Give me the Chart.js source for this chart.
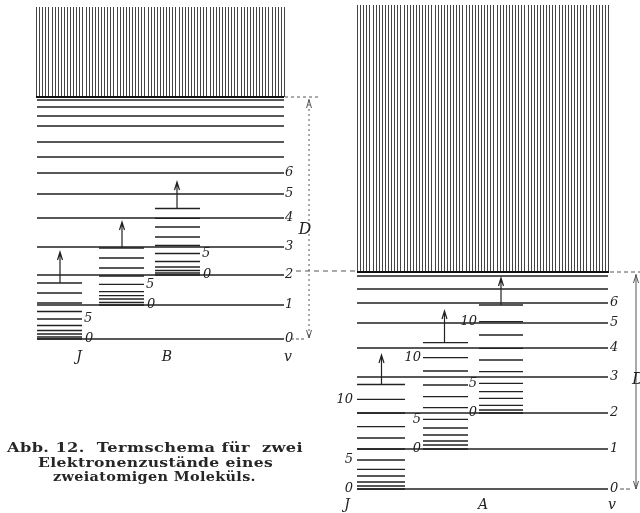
<!DOCTYPE html>
<html>
<head>
<meta charset="utf-8">
<script src="https://cdn.jsdelivr.net/npm/chart.js@4/dist/chart.umd.min.js"></script>
<style>
  body { margin: 0; background: #fff; }
  #wrap { position: relative; width: 640px; height: 513px; overflow: hidden; background: #fff; }
  #termChart { position: absolute; left: 0; top: 0; }
  .cap { position: absolute; white-space: pre; font: bold 13px "DejaVu Serif", serif; color: #262626; line-height: 16px; letter-spacing: 0.3px; transform-origin: 0 50%; }
</style>
</head>
<body>
<div id="wrap">
  <canvas id="termChart" width="640" height="513"></canvas>
  <div class="cap" id="cap1" style="left:7px; top:440px;">Abb. 12.  Termschema für  zwei</div>
  <div class="cap" id="cap2" style="left:38px; top:455px;">Elektronenzustände eines</div>
  <div class="cap" id="cap3" style="left:53px; top:469px;">zweiatomigen Moleküls.</div>
</div>
<script>
// Termschema - zwei Elektronenzustaende (Energie ueber v=0)

// linker Zustand (oben)
const leftVib = [0, 34, 64, 92, 121, 145, 166, 182, 197, 213, 223, 232, 239];
const leftVibLabels = ['0', '1', '2', '3', '4', '5', '6'];
const leftD = 242;
const leftContTop = 332;
const leftRotJ  = [0, 2, 5, 8.5, 13.5, 20, 27.5, 36, 46, 56];
const leftRotB1 = [34, 36.5, 40, 43.3, 47.3, 54.7, 63, 71, 81, 91];
const leftRotB2 = [64, 66, 68.5, 72, 77.5, 85.5, 93.5, 102, 112, 120.7, 130.5];
const leftArrowTo = [87, 117, 157];

// rechter Zustand (unten)
const rightVib = [0, 40, 76, 112, 141, 166, 186, 200, 213];
const rightVibLabels = ['0', '1', '2', '3', '4', '5', '6'];
const rightD = 217;
const rightContTop = 484;
const rightRotJ  = [0, 3, 7, 13, 19.7, 29, 40, 51, 62.3, 76, 89.7, 104.5];
const rightRotA1 = [40, 44, 48, 54, 61, 69.7, 81.3, 92.3, 104, 118, 131.3, 146.3];
const rightRotA2 = [76, 79, 83.7, 90.7, 97.3, 105.7, 117.3, 129, 140.7, 154, 167.3, 184];
const rightArrowTo = [134, 178, 211];

const rotLabels = ['0', '5', '10'];   // J = 0, 5, 10

// layout (horizontal positions of the columns)
const L = { vib: [37, 284], J: [37, 82], B1: [99, 144], B2: [155, 200], arrows: [60, 122, 177] };
const R = { vib: [357, 608], J: [357, 405], A1: [423, 468], A2: [479, 523], arrows: [381.5, 444.5, 501] };

const INK = '#222';

function levels(x0, x1, vals) {
    return vals.flatMap(v => [{x: x0, y: v}, {x: x1, y: v}, {x: x1, y: null}]);
}

function ds(data, axis, width) {
    return {
        data: data, yAxisID: axis, showLine: true, borderColor: INK, borderWidth: width,
        pointRadius: 0, fill: false, tension: 0, spanGaps: false
    };
}

function hatch(ctx, x, y, xs, xe, bottom, top) {
    const p0 = x.getPixelForValue(xs), p1 = x.getPixelForValue(xe);
    const yb = y.getPixelForValue(bottom), yt = y.getPixelForValue(top);
    ctx.save();
    ctx.strokeStyle = '#444';
    ctx.lineWidth = 1;
    ctx.beginPath();
    for (let px = p0; px <= p1; px += 3.1) {
        const xx = Math.round(px) + 0.5;
        ctx.moveTo(xx, yt);
        ctx.lineTo(xx, yb);
    }
    ctx.stroke();
    ctx.strokeStyle = '#111';
    ctx.lineWidth = 2;
    ctx.beginPath();
    ctx.moveTo(p0, yb);
    ctx.lineTo(p1, yb);
    ctx.stroke();
    ctx.restore();
}

function arrow(ctx, px, yFrom, yTo, dir) {
    // dir -1 = nach oben
    ctx.beginPath();
    ctx.moveTo(px, yFrom);
    ctx.lineTo(px, yTo);
    ctx.moveTo(px - 2.5, yTo - dir * 8);
    ctx.lineTo(px, yTo);
    ctx.lineTo(px + 2.5, yTo - dir * 8);
    ctx.stroke();
}

function hline(ctx, x0, x1, py, dash) {
    ctx.save();
    ctx.setLineDash(dash);
    ctx.beginPath();
    ctx.moveTo(x0, py);
    ctx.lineTo(x1, py);
    ctx.stroke();
    ctx.restore();
}

const termPlugin = {
    id: 'termschema',
    beforeDatasetsDraw(chart) {
        const { ctx, scales: { x, yL, yR } } = chart;
        hatch(ctx, x, yL, L.vib[0] - 1, L.vib[1], leftD, leftContTop);
        hatch(ctx, x, yR, R.vib[0], R.vib[1] + 1, rightD, rightContTop);
    },
    afterDatasetsDraw(chart) {
        const { ctx, scales: { x, yL, yR } } = chart;
        ctx.save();
        ctx.strokeStyle = INK;
        ctx.lineWidth = 1.2;

        // Pfeile ueber den Rotationsleitern
        const lTops = [leftRotJ, leftRotB1, leftRotB2].map(a => a[a.length - 1]);
        lTops.forEach((v, i) => arrow(ctx, x.getPixelForValue(L.arrows[i]), yL.getPixelForValue(v), yL.getPixelForValue(leftArrowTo[i]), -1));
        const rTops = [rightRotJ, rightRotA1, rightRotA2].map(a => a[a.length - 1]);
        rTops.forEach((v, i) => arrow(ctx, x.getPixelForValue(R.arrows[i]), yR.getPixelForValue(v), yR.getPixelForValue(rightArrowTo[i]), -1));

        // D-Markierung links
        ctx.strokeStyle = '#555';
        ctx.lineWidth = 1;
        const lDx = x.getPixelForValue(309);
        hline(ctx, x.getPixelForValue(285), x.getPixelForValue(318), yL.getPixelForValue(leftD), [3, 3]);
        hline(ctx, x.getPixelForValue(291), x.getPixelForValue(305), yL.getPixelForValue(0), [3, 2]);
        ctx.save();
        ctx.setLineDash([2, 3]);
        ctx.beginPath();
        ctx.moveTo(lDx, yL.getPixelForValue(leftD) + 2);
        ctx.lineTo(lDx, yL.getPixelForValue(0) - 1);
        ctx.stroke();
        ctx.restore();
        arrow(ctx, lDx, yL.getPixelForValue(leftD) + 4, yL.getPixelForValue(leftD) + 3, -1);
        arrow(ctx, lDx, yL.getPixelForValue(0) - 4, yL.getPixelForValue(0) - 1, 1);

        // gestrichelte Verbindung und D rechts
        hline(ctx, x.getPixelForValue(296), x.getPixelForValue(357), yR.getPixelForValue(rightD) - 1, [5, 4]);
        hline(ctx, x.getPixelForValue(610), x.getPixelForValue(640), yR.getPixelForValue(rightD), [4, 3]);
        hline(ctx, x.getPixelForValue(620), x.getPixelForValue(632), yR.getPixelForValue(0), [4, 2]);
        const rDx = x.getPixelForValue(636);
        ctx.beginPath();
        ctx.moveTo(rDx, yR.getPixelForValue(rightD) + 2);
        ctx.lineTo(rDx, yR.getPixelForValue(0));
        ctx.stroke();
        arrow(ctx, rDx, yR.getPixelForValue(rightD) + 4, yR.getPixelForValue(rightD) + 3, -1);
        arrow(ctx, rDx, yR.getPixelForValue(0) - 4, yR.getPixelForValue(0), 1);

        // Beschriftung
        ctx.fillStyle = '#222';
        ctx.font = 'italic 13px "DejaVu Serif"';
        ctx.textBaseline = 'middle';
        ctx.textAlign = 'left';
        leftVibLabels.forEach((t, i) => ctx.fillText(t, x.getPixelForValue(285), yL.getPixelForValue(leftVib[i])));
        rightVibLabels.forEach((t, i) => ctx.fillText(t, x.getPixelForValue(610), yR.getPixelForValue(rightVib[i])));
        [[leftRotJ, L.J], [leftRotB1, L.B1], [leftRotB2, L.B2]].forEach(([a, c]) => {
            ctx.fillText(rotLabels[1], x.getPixelForValue(c[1] + 2), yL.getPixelForValue(a[5]));
            ctx.fillText(rotLabels[0], x.getPixelForValue(c[1] + 3), yL.getPixelForValue(a[0]));
        });
        ctx.textAlign = 'right';
        [[rightRotJ, R.J, 353], [rightRotA1, R.A1, 421], [rightRotA2, R.A2, 477]].forEach(([a, c, lx]) => {
            [0, 5, 10].forEach((j, k) => ctx.fillText(rotLabels[k], x.getPixelForValue(lx), yR.getPixelForValue(a[j])));
        });
        ctx.textAlign = 'center';
        ctx.font = 'italic 14px "DejaVu Serif"';
        ctx.fillText('J', x.getPixelForValue(79), yL.getPixelForValue(-18));
        ctx.fillText('B', x.getPixelForValue(167), yL.getPixelForValue(-18));
        ctx.fillText('v', x.getPixelForValue(288), yL.getPixelForValue(-18));
        ctx.fillText('J', x.getPixelForValue(347), yR.getPixelForValue(-16));
        ctx.fillText('A', x.getPixelForValue(483), yR.getPixelForValue(-16));
        ctx.fillText('v', x.getPixelForValue(612), yR.getPixelForValue(-16));
        ctx.font = 'italic 16px "DejaVu Serif"';
        ctx.fillText('D', x.getPixelForValue(305), yL.getPixelForValue(109));
        ctx.textAlign = 'left';
        ctx.fillText('D', x.getPixelForValue(632), yR.getPixelForValue(109));
        ctx.restore();
    }
};

new Chart(document.getElementById('termChart'), {
    type: 'scatter',
    data: {
        datasets: [
            ds(levels(L.vib[0], L.vib[1], leftVib), 'yL', 1.7),
            ds(levels(L.J[0], L.J[1], leftRotJ), 'yL', 1.3),
            ds(levels(L.B1[0], L.B1[1], leftRotB1), 'yL', 1.3),
            ds(levels(L.B2[0], L.B2[1], leftRotB2), 'yL', 1.3),
            ds(levels(R.vib[0], R.vib[1], rightVib), 'yR', 1.7),
            ds(levels(R.J[0], R.J[1], rightRotJ), 'yR', 1.3),
            ds(levels(R.A1[0], R.A1[1], rightRotA1), 'yR', 1.3),
            ds(levels(R.A2[0], R.A2[1], rightRotA2), 'yR', 1.3)
        ]
    },
    options: {
        responsive: false,
        animation: false,
        layout: { padding: 0 },
        plugins: { legend: { display: false }, tooltip: { enabled: false } },
        scales: {
            x:  { type: 'linear', min: 0, max: 640, display: false },
            yL: { type: 'linear', min: -174, max: 339, display: false },
            yR: { type: 'linear', min: -24, max: 489, display: false }
        }
    },
    plugins: [termPlugin]
});

// Bildunterschrift auf Zeilenbreite bringen (Glyphen breiter ziehen)
function fitLine(id, width) {
    const el = document.getElementById(id);
    const w = el.getBoundingClientRect().width;
    el.style.transform = 'scaleX(' + (width / w).toFixed(3) + ')';
}
fitLine('cap1', 296);
fitLine('cap2', 235);
fitLine('cap3', 203);
</script>
</body>
</html>
